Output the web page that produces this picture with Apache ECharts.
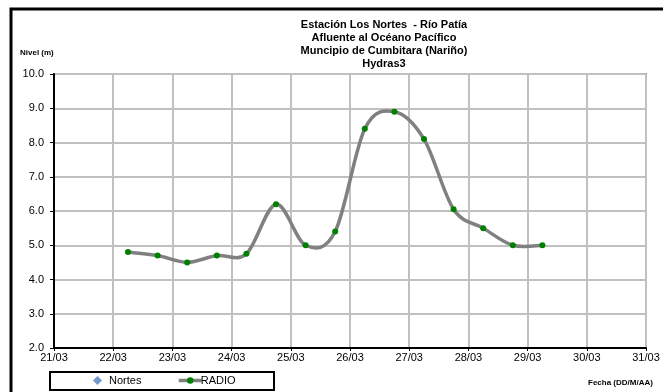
<!DOCTYPE html>
<html>
<head>
<meta charset="utf-8">
<script src="https://cdn.jsdelivr.net/npm/echarts@6/dist/echarts.min.js"></script>
<style>
html,body{margin:0;padding:0;background:#fff;}
#c{width:663px;height:392px;}
</style>
</head>
<body>
<div id="c"></div>
<script>
const titleLines = ['Estación Los Nortes  - Río Patía', 'Afluente al Océano Pacífico', 'Muncipio de Cumbitara (Nariño)', 'Hydras3'];
const yAxisName = 'Nivel (m)';
const xAxisName = 'Fecha (DD/M/AA)';
const radioTimes = ['22/03 06:00','22/03 18:00','23/03 06:00','23/03 18:00','24/03 06:00','24/03 18:00','25/03 06:00','25/03 18:00','26/03 06:00','26/03 18:00','27/03 06:00','27/03 18:00','28/03 06:00','28/03 18:00','29/03 06:00'];
const radioValues = [4.8, 4.7, 4.5, 4.7, 4.75, 6.2, 5.0, 5.4, 8.4, 8.9, 8.1, 6.05, 5.5, 5.0, 5.0];
const nortesValues = [];
const xMinDay = 21, xMaxDay = 31;
const yMin = 2, yMax = 10;

function toDay(s){
  const [d, t] = s.split(' ');
  const day = parseInt(d.split('/')[0], 10);
  const [h, m] = t.split(':').map(Number);
  return day + (h + m/60)/24;
}
const radioData = radioTimes.map((t, i) => [toDay(t), radioValues[i]]);

const FONT = '"Liberation Sans", Arial, sans-serif';
const legendText = {fontFamily: FONT, fontSize: 11, color: '#000'};

// Excel-like smoothed segment (Catmull-Rom style Bezier) between consecutive points
function renderSegment(params, api){
  const i = params.dataIndex;
  const n = radioData.length;
  if (i >= n - 1) return null;
  const p = k => api.coord(radioData[Math.max(0, Math.min(n - 1, k))]);
  const p0 = p(i - 1), p1 = p(i), p2 = p(i + 1), p3 = p(i + 2);
  const t = 1 / 6;
  return {
    type: 'bezierCurve',
    shape: {
      x1: p1[0], y1: p1[1], x2: p2[0], y2: p2[1],
      cpx1: p1[0] + (p2[0] - p0[0]) * t, cpy1: p1[1] + (p2[1] - p0[1]) * t,
      cpx2: p2[0] - (p3[0] - p1[0]) * t, cpy2: p2[1] - (p3[1] - p1[1]) * t
    },
    style: {fill: 'none', stroke: '#808080', lineWidth: 3.5, lineCap: 'round'},
    silent: true
  };
}

const chart = echarts.init(document.getElementById('c'), null, {renderer:'canvas'});
chart.setOption({
  animation: false,
  backgroundColor: '#fff',
  textStyle: {fontFamily: FONT},
  title: {
    text: titleLines.join('\n'),
    left: 379, textAlign: 'center', top: 13,
    textStyle: {fontFamily: FONT, fontSize: 11, fontWeight: 'bold', color: '#000', lineHeight: 13}
  },
  grid: {left: 54, top: 74, right: 17, bottom: 44, show: true, borderColor: '#808080', borderWidth: 2},
  xAxis: {
    type: 'value', min: xMinDay, max: xMaxDay, interval: 1,
    axisLine: {show: true, lineStyle: {color: '#000', width: 2}},
    axisTick: {show: true, length: 3, lineStyle: {color: '#000'}},
    axisLabel: {color: '#000', fontSize: 11, fontFamily: FONT, margin: 4,
      formatter: v => String(v).padStart(2,'0') + '/03'},
    splitLine: {show: true, lineStyle: {color: '#c0c0c0', width: 2}}
  },
  yAxis: {
    type: 'value', min: yMin, max: yMax, interval: 1,
    axisLine: {show: true, lineStyle: {color: '#000', width: 2}},
    axisTick: {show: true, length: 4, lineStyle: {color: '#000'}},
    axisLabel: {color: '#000', fontSize: 11, fontFamily: FONT, margin: 10,
      formatter: v => v.toFixed(1)},
    splitLine: {show: true, lineStyle: {color: '#c0c0c0', width: 2}}
  },
  legend: [
    {left: 93, top: 375, padding: 0, itemWidth: 9, itemHeight: 9,
     textStyle: Object.assign({padding: [0,0,0,2]}, legendText), data: ['Nortes']},
    {left: 177, top: 375, padding: 0, itemWidth: 23, itemHeight: 8,
     textStyle: Object.assign({padding: [0,0,0,-6]}, legendText),
     data: [{name: 'RADIO', lineStyle: {opacity: 1, color: '#808080', width: 3.5}}]}
  ],
  series: [
    {name: 'Nortes', type: 'scatter', symbol: 'diamond', symbolSize: 9,
     itemStyle: {color: '#4f81bd'}, data: nortesValues},
    {name: 'RADIO', type: 'line', data: radioData, smooth: false,
     symbol: 'circle', symbolSize: 6, showSymbol: true, z: 5,
     lineStyle: {color: '#808080', width: 3.5, opacity: 0},
     itemStyle: {color: '#008000', borderWidth: 0}},
    {name: 'RADIO curve', type: 'custom', data: radioData, renderItem: renderSegment, z: 3}
  ],
  graphic: [
    {type: 'rect', shape: {x: 11, y: 9, width: 700, height: 420}, style: {fill: 'none', stroke: '#000', lineWidth: 3}, z: 100},
    {type: 'rect', shape: {x: 50, y: 372, width: 224, height: 18}, style: {fill: 'none', stroke: '#000', lineWidth: 2}, z: 100},
    {type: 'text', left: 20, top: 49, style: {text: yAxisName, font: 'bold 8px ' + FONT, fill: '#000'}},
    {type: 'text', left: 588, top: 379, style: {text: xAxisName, font: 'bold 8px ' + FONT, fill: '#000'}}
  ]
});
</script>
</body>
</html>
